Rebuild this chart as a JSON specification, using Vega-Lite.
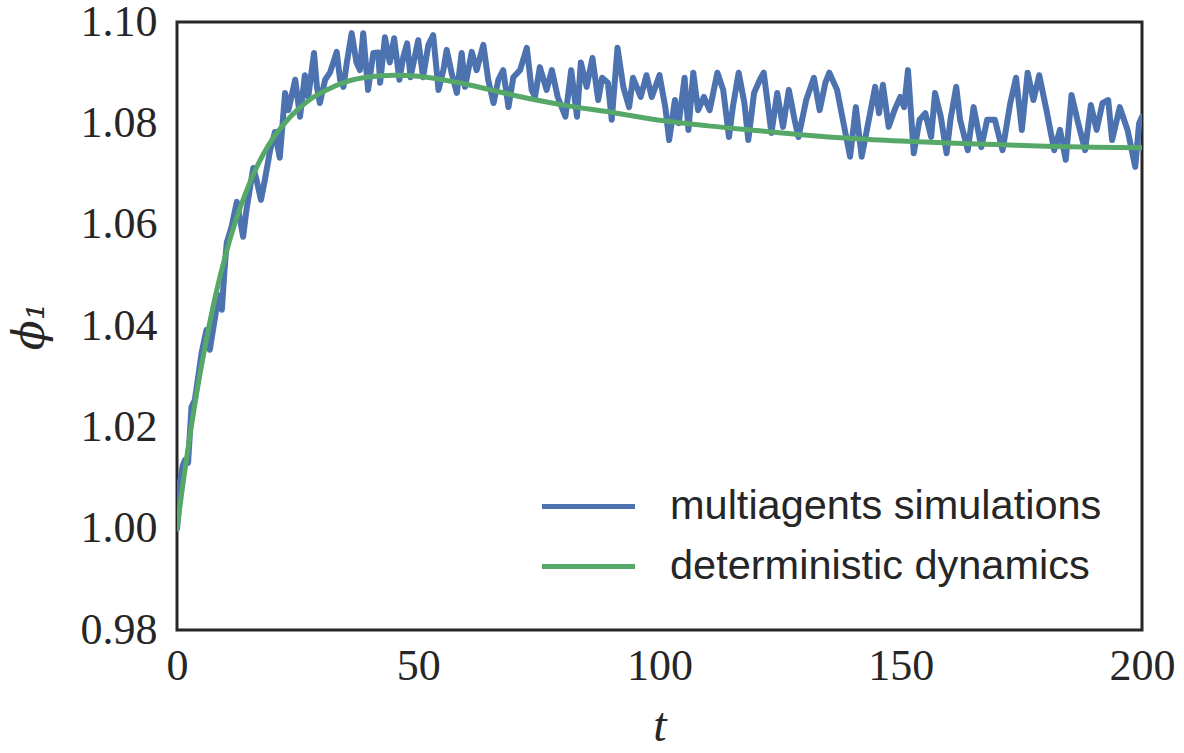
{
  "$schema": "https://vega.github.io/schema/vega-lite/v6.json",
  "autosize": {"type": "none"},
  "padding": {"left": 177, "top": 22, "right": 42, "bottom": 123},
  "width": 965,
  "height": 608,
  "background": "white",
  "config": {
    "view": {"stroke": "#262626", "strokeWidth": 3},
    "axis": {
      "grid": false, "ticks": false, "domain": false,
      "labelFont": "Liberation Serif", "labelFontSize": 44, "labelColor": "#262626",
      "titleFont": "DejaVu Serif", "titleFontStyle": "italic", "titleFontWeight": "normal", "titleColor": "#262626"
    }
  },
  "datasets": {
    "sim": [
      {"t":0,"phi":1.000,"series":"multiagents simulations"},
      {"t":0.3,"phi":1.003,"series":"multiagents simulations"},
      {"t":0.6,"phi":1.009,"series":"multiagents simulations"},
      {"t":1.2,"phi":1.0125,"series":"multiagents simulations"},
      {"t":1.7,"phi":1.0136,"series":"multiagents simulations"},
      {"t":2.3,"phi":1.013,"series":"multiagents simulations"},
      {"t":3.0,"phi":1.024,"series":"multiagents simulations"},
      {"t":3.7,"phi":1.0254,"series":"multiagents simulations"},
      {"t":4.4,"phi":1.030,"series":"multiagents simulations"},
      {"t":5.1,"phi":1.0347,"series":"multiagents simulations"},
      {"t":6.1,"phi":1.0392,"series":"multiagents simulations"},
      {"t":6.8,"phi":1.0353,"series":"multiagents simulations"},
      {"t":7.9,"phi":1.0418,"series":"multiagents simulations"},
      {"t":8.6,"phi":1.0461,"series":"multiagents simulations"},
      {"t":9.3,"phi":1.0432,"series":"multiagents simulations"},
      {"t":9.9,"phi":1.0517,"series":"multiagents simulations"},
      {"t":10.3,"phi":1.0564,"series":"multiagents simulations"},
      {"t":11.3,"phi":1.0595,"series":"multiagents simulations"},
      {"t":12.4,"phi":1.0645,"series":"multiagents simulations"},
      {"t":13.7,"phi":1.0576,"series":"multiagents simulations"},
      {"t":14.4,"phi":1.0629,"series":"multiagents simulations"},
      {"t":15.8,"phi":1.0712,"series":"multiagents simulations"},
      {"t":16.5,"phi":1.0688,"series":"multiagents simulations"},
      {"t":17.4,"phi":1.0649,"series":"multiagents simulations"},
      {"t":18.2,"phi":1.0688,"series":"multiagents simulations"},
      {"t":19.3,"phi":1.0747,"series":"multiagents simulations"},
      {"t":20.3,"phi":1.0783,"series":"multiagents simulations"},
      {"t":21.3,"phi":1.0732,"series":"multiagents simulations"},
      {"t":22.4,"phi":1.086,"series":"multiagents simulations"},
      {"t":23.1,"phi":1.0826,"series":"multiagents simulations"},
      {"t":24.5,"phi":1.0886,"series":"multiagents simulations"},
      {"t":25.5,"phi":1.0813,"series":"multiagents simulations"},
      {"t":26.5,"phi":1.0895,"series":"multiagents simulations"},
      {"t":27.2,"phi":1.0852,"series":"multiagents simulations"},
      {"t":28.4,"phi":1.0939,"series":"multiagents simulations"},
      {"t":29.0,"phi":1.0872,"series":"multiagents simulations"},
      {"t":29.6,"phi":1.084,"series":"multiagents simulations"},
      {"t":30.7,"phi":1.0886,"series":"multiagents simulations"},
      {"t":31.7,"phi":1.090,"series":"multiagents simulations"},
      {"t":32.4,"phi":1.092,"series":"multiagents simulations"},
      {"t":33.1,"phi":1.0941,"series":"multiagents simulations"},
      {"t":33.8,"phi":1.0886,"series":"multiagents simulations"},
      {"t":34.5,"phi":1.0872,"series":"multiagents simulations"},
      {"t":35.2,"phi":1.092,"series":"multiagents simulations"},
      {"t":36.2,"phi":1.0978,"series":"multiagents simulations"},
      {"t":37.2,"phi":1.092,"series":"multiagents simulations"},
      {"t":37.9,"phi":1.0905,"series":"multiagents simulations"},
      {"t":38.6,"phi":1.0978,"series":"multiagents simulations"},
      {"t":39.6,"phi":1.0866,"series":"multiagents simulations"},
      {"t":40.7,"phi":1.0939,"series":"multiagents simulations"},
      {"t":41.7,"phi":1.094,"series":"multiagents simulations"},
      {"t":42.1,"phi":1.088,"series":"multiagents simulations"},
      {"t":43.1,"phi":1.097,"series":"multiagents simulations"},
      {"t":44.1,"phi":1.092,"series":"multiagents simulations"},
      {"t":45.0,"phi":1.0968,"series":"multiagents simulations"},
      {"t":46.1,"phi":1.0886,"series":"multiagents simulations"},
      {"t":46.9,"phi":1.0931,"series":"multiagents simulations"},
      {"t":47.7,"phi":1.0958,"series":"multiagents simulations"},
      {"t":48.4,"phi":1.0891,"series":"multiagents simulations"},
      {"t":50.0,"phi":1.0964,"series":"multiagents simulations"},
      {"t":51.0,"phi":1.0891,"series":"multiagents simulations"},
      {"t":52.1,"phi":1.0955,"series":"multiagents simulations"},
      {"t":53.1,"phi":1.0974,"series":"multiagents simulations"},
      {"t":54.2,"phi":1.0866,"series":"multiagents simulations"},
      {"t":55.2,"phi":1.0905,"series":"multiagents simulations"},
      {"t":55.9,"phi":1.0945,"series":"multiagents simulations"},
      {"t":56.9,"phi":1.090,"series":"multiagents simulations"},
      {"t":58.0,"phi":1.086,"series":"multiagents simulations"},
      {"t":59.0,"phi":1.0939,"series":"multiagents simulations"},
      {"t":59.7,"phi":1.0872,"series":"multiagents simulations"},
      {"t":61.1,"phi":1.0941,"series":"multiagents simulations"},
      {"t":62.1,"phi":1.0905,"series":"multiagents simulations"},
      {"t":63.5,"phi":1.0955,"series":"multiagents simulations"},
      {"t":64.5,"phi":1.0886,"series":"multiagents simulations"},
      {"t":65.6,"phi":1.084,"series":"multiagents simulations"},
      {"t":66.6,"phi":1.0886,"series":"multiagents simulations"},
      {"t":67.6,"phi":1.0905,"series":"multiagents simulations"},
      {"t":68.7,"phi":1.0832,"series":"multiagents simulations"},
      {"t":69.7,"phi":1.0891,"series":"multiagents simulations"},
      {"t":71.1,"phi":1.0905,"series":"multiagents simulations"},
      {"t":72.5,"phi":1.0949,"series":"multiagents simulations"},
      {"t":73.5,"phi":1.0866,"series":"multiagents simulations"},
      {"t":74.2,"phi":1.0852,"series":"multiagents simulations"},
      {"t":75.2,"phi":1.0911,"series":"multiagents simulations"},
      {"t":76.6,"phi":1.0866,"series":"multiagents simulations"},
      {"t":77.7,"phi":1.0905,"series":"multiagents simulations"},
      {"t":78.9,"phi":1.0852,"series":"multiagents simulations"},
      {"t":80.5,"phi":1.0813,"series":"multiagents simulations"},
      {"t":81.7,"phi":1.0905,"series":"multiagents simulations"},
      {"t":82.9,"phi":1.0813,"series":"multiagents simulations"},
      {"t":83.7,"phi":1.092,"series":"multiagents simulations"},
      {"t":84.9,"phi":1.0872,"series":"multiagents simulations"},
      {"t":86.1,"phi":1.0929,"series":"multiagents simulations"},
      {"t":87.3,"phi":1.0846,"series":"multiagents simulations"},
      {"t":88.1,"phi":1.089,"series":"multiagents simulations"},
      {"t":89.3,"phi":1.088,"series":"multiagents simulations"},
      {"t":90.1,"phi":1.0807,"series":"multiagents simulations"},
      {"t":91.3,"phi":1.0949,"series":"multiagents simulations"},
      {"t":92.5,"phi":1.0872,"series":"multiagents simulations"},
      {"t":93.7,"phi":1.0832,"series":"multiagents simulations"},
      {"t":94.5,"phi":1.089,"series":"multiagents simulations"},
      {"t":96.1,"phi":1.0852,"series":"multiagents simulations"},
      {"t":97.3,"phi":1.0895,"series":"multiagents simulations"},
      {"t":98.4,"phi":1.0852,"series":"multiagents simulations"},
      {"t":100.0,"phi":1.0895,"series":"multiagents simulations"},
      {"t":101.2,"phi":1.0832,"series":"multiagents simulations"},
      {"t":102.0,"phi":1.0767,"series":"multiagents simulations"},
      {"t":103.2,"phi":1.0846,"series":"multiagents simulations"},
      {"t":104.0,"phi":1.080,"series":"multiagents simulations"},
      {"t":105.2,"phi":1.089,"series":"multiagents simulations"},
      {"t":106.0,"phi":1.0787,"series":"multiagents simulations"},
      {"t":107.0,"phi":1.090,"series":"multiagents simulations"},
      {"t":108.0,"phi":1.0826,"series":"multiagents simulations"},
      {"t":109.2,"phi":1.0852,"series":"multiagents simulations"},
      {"t":110.4,"phi":1.0826,"series":"multiagents simulations"},
      {"t":112.0,"phi":1.090,"series":"multiagents simulations"},
      {"t":113.2,"phi":1.0866,"series":"multiagents simulations"},
      {"t":114.4,"phi":1.0773,"series":"multiagents simulations"},
      {"t":115.2,"phi":1.0832,"series":"multiagents simulations"},
      {"t":116.4,"phi":1.090,"series":"multiagents simulations"},
      {"t":117.6,"phi":1.084,"series":"multiagents simulations"},
      {"t":118.4,"phi":1.0767,"series":"multiagents simulations"},
      {"t":119.6,"phi":1.086,"series":"multiagents simulations"},
      {"t":120.8,"phi":1.0886,"series":"multiagents simulations"},
      {"t":121.6,"phi":1.090,"series":"multiagents simulations"},
      {"t":123.2,"phi":1.0781,"series":"multiagents simulations"},
      {"t":124.4,"phi":1.086,"series":"multiagents simulations"},
      {"t":125.6,"phi":1.0793,"series":"multiagents simulations"},
      {"t":126.8,"phi":1.0866,"series":"multiagents simulations"},
      {"t":128.0,"phi":1.0807,"series":"multiagents simulations"},
      {"t":128.8,"phi":1.0773,"series":"multiagents simulations"},
      {"t":130.4,"phi":1.0846,"series":"multiagents simulations"},
      {"t":132.0,"phi":1.089,"series":"multiagents simulations"},
      {"t":133.2,"phi":1.0826,"series":"multiagents simulations"},
      {"t":134.4,"phi":1.0881,"series":"multiagents simulations"},
      {"t":135.2,"phi":1.090,"series":"multiagents simulations"},
      {"t":136.8,"phi":1.0866,"series":"multiagents simulations"},
      {"t":138.0,"phi":1.0807,"series":"multiagents simulations"},
      {"t":139.5,"phi":1.0734,"series":"multiagents simulations"},
      {"t":140.7,"phi":1.0832,"series":"multiagents simulations"},
      {"t":141.9,"phi":1.0734,"series":"multiagents simulations"},
      {"t":143.1,"phi":1.0793,"series":"multiagents simulations"},
      {"t":144.7,"phi":1.0872,"series":"multiagents simulations"},
      {"t":145.5,"phi":1.082,"series":"multiagents simulations"},
      {"t":146.3,"phi":1.0876,"series":"multiagents simulations"},
      {"t":147.5,"phi":1.0793,"series":"multiagents simulations"},
      {"t":148.7,"phi":1.0826,"series":"multiagents simulations"},
      {"t":149.9,"phi":1.0852,"series":"multiagents simulations"},
      {"t":150.7,"phi":1.0832,"series":"multiagents simulations"},
      {"t":151.5,"phi":1.0905,"series":"multiagents simulations"},
      {"t":152.7,"phi":1.0741,"series":"multiagents simulations"},
      {"t":153.9,"phi":1.0807,"series":"multiagents simulations"},
      {"t":155.1,"phi":1.082,"series":"multiagents simulations"},
      {"t":156.3,"phi":1.0773,"series":"multiagents simulations"},
      {"t":157.1,"phi":1.086,"series":"multiagents simulations"},
      {"t":158.3,"phi":1.0813,"series":"multiagents simulations"},
      {"t":159.5,"phi":1.0741,"series":"multiagents simulations"},
      {"t":160.3,"phi":1.0807,"series":"multiagents simulations"},
      {"t":161.5,"phi":1.0872,"series":"multiagents simulations"},
      {"t":162.3,"phi":1.0807,"series":"multiagents simulations"},
      {"t":163.9,"phi":1.0747,"series":"multiagents simulations"},
      {"t":165.1,"phi":1.0832,"series":"multiagents simulations"},
      {"t":166.7,"phi":1.0753,"series":"multiagents simulations"},
      {"t":167.9,"phi":1.0807,"series":"multiagents simulations"},
      {"t":169.5,"phi":1.0807,"series":"multiagents simulations"},
      {"t":171.1,"phi":1.0747,"series":"multiagents simulations"},
      {"t":172.7,"phi":1.084,"series":"multiagents simulations"},
      {"t":173.9,"phi":1.089,"series":"multiagents simulations"},
      {"t":175.1,"phi":1.0787,"series":"multiagents simulations"},
      {"t":176.3,"phi":1.090,"series":"multiagents simulations"},
      {"t":177.5,"phi":1.0846,"series":"multiagents simulations"},
      {"t":178.7,"phi":1.0895,"series":"multiagents simulations"},
      {"t":180.2,"phi":1.0826,"series":"multiagents simulations"},
      {"t":181.8,"phi":1.0747,"series":"multiagents simulations"},
      {"t":183.0,"phi":1.0787,"series":"multiagents simulations"},
      {"t":184.2,"phi":1.0728,"series":"multiagents simulations"},
      {"t":185.4,"phi":1.0856,"series":"multiagents simulations"},
      {"t":186.6,"phi":1.0807,"series":"multiagents simulations"},
      {"t":188.2,"phi":1.0747,"series":"multiagents simulations"},
      {"t":189.4,"phi":1.0836,"series":"multiagents simulations"},
      {"t":190.6,"phi":1.0787,"series":"multiagents simulations"},
      {"t":191.8,"phi":1.084,"series":"multiagents simulations"},
      {"t":193.0,"phi":1.0846,"series":"multiagents simulations"},
      {"t":193.8,"phi":1.0767,"series":"multiagents simulations"},
      {"t":195.4,"phi":1.0832,"series":"multiagents simulations"},
      {"t":197.0,"phi":1.0787,"series":"multiagents simulations"},
      {"t":198.6,"phi":1.0714,"series":"multiagents simulations"},
      {"t":199.4,"phi":1.080,"series":"multiagents simulations"},
      {"t":200.0,"phi":1.0813,"series":"multiagents simulations"}
    ],
    "det": [
      {"t":0,"phi":1.0000,"series":"deterministic dynamics"},
      {"t":1,"phi":1.0072,"series":"deterministic dynamics"},
      {"t":2,"phi":1.0140,"series":"deterministic dynamics"},
      {"t":3,"phi":1.0204,"series":"deterministic dynamics"},
      {"t":4,"phi":1.0263,"series":"deterministic dynamics"},
      {"t":5,"phi":1.0318,"series":"deterministic dynamics"},
      {"t":6,"phi":1.0369,"series":"deterministic dynamics"},
      {"t":8,"phi":1.0461,"series":"deterministic dynamics"},
      {"t":10,"phi":1.0538,"series":"deterministic dynamics"},
      {"t":12,"phi":1.0603,"series":"deterministic dynamics"},
      {"t":14,"phi":1.0657,"series":"deterministic dynamics"},
      {"t":16,"phi":1.0703,"series":"deterministic dynamics"},
      {"t":18,"phi":1.0741,"series":"deterministic dynamics"},
      {"t":20,"phi":1.0772,"series":"deterministic dynamics"},
      {"t":22,"phi":1.0797,"series":"deterministic dynamics"},
      {"t":25,"phi":1.0827,"series":"deterministic dynamics"},
      {"t":28,"phi":1.0850,"series":"deterministic dynamics"},
      {"t":31,"phi":1.0866,"series":"deterministic dynamics"},
      {"t":35,"phi":1.0882,"series":"deterministic dynamics"},
      {"t":40,"phi":1.0892,"series":"deterministic dynamics"},
      {"t":45,"phi":1.0895,"series":"deterministic dynamics"},
      {"t":50,"phi":1.0893,"series":"deterministic dynamics"},
      {"t":55,"phi":1.0886,"series":"deterministic dynamics"},
      {"t":60,"phi":1.0877,"series":"deterministic dynamics"},
      {"t":65,"phi":1.0866,"series":"deterministic dynamics"},
      {"t":70,"phi":1.0855,"series":"deterministic dynamics"},
      {"t":75,"phi":1.0845,"series":"deterministic dynamics"},
      {"t":80,"phi":1.0836,"series":"deterministic dynamics"},
      {"t":90,"phi":1.0822,"series":"deterministic dynamics"},
      {"t":100,"phi":1.0806,"series":"deterministic dynamics"},
      {"t":110,"phi":1.0795,"series":"deterministic dynamics"},
      {"t":120,"phi":1.0786,"series":"deterministic dynamics"},
      {"t":130,"phi":1.0777,"series":"deterministic dynamics"},
      {"t":140,"phi":1.0770,"series":"deterministic dynamics"},
      {"t":150,"phi":1.0765,"series":"deterministic dynamics"},
      {"t":160,"phi":1.0761,"series":"deterministic dynamics"},
      {"t":170,"phi":1.0758,"series":"deterministic dynamics"},
      {"t":180,"phi":1.0755,"series":"deterministic dynamics"},
      {"t":190,"phi":1.0753,"series":"deterministic dynamics"},
      {"t":200,"phi":1.0752,"series":"deterministic dynamics"}
    ]
  },
  "encoding": {
    "x": {
      "field": "t", "type": "quantitative",
      "scale": {"domain": [0, 200], "nice": false, "zero": false},
      "axis": {"values": [0, 50, 100, 150, 200], "labelPadding": 14, "labelFlush": false, "labelOverlap": false,
               "title": "t", "titleFont": "Liberation Serif", "titleFontSize": 48, "titleBaseline": "middle", "titleY": 96}
    },
    "y": {
      "field": "phi", "type": "quantitative",
      "scale": {"domain": [0.98, 1.10], "nice": false, "zero": false},
      "axis": {"values": [0.98, 1.0, 1.02, 1.04, 1.06, 1.08, 1.1], "format": ".2f", "labelPadding": 20,
               "title": "ϕ₁", "titleFontSize": 44, "titleX": -147, "titleY": 304, "titleBaseline": "middle", "titleAlign": "center"}
    },
    "color": {
      "field": "series", "type": "nominal",
      "scale": {"domain": ["multiagents simulations", "deterministic dynamics"], "range": ["#4c72b0", "#55a868"]},
      "legend": {
        "title": null, "orient": "none", "legendX": 378, "legendY": 451, "padding": 0,
        "symbolType": "M-1.5,0H1.5", "symbolSize": 3844, "symbolStrokeWidth": 5, "symbolFillColor": "transparent",
        "labelFont": "Liberation Sans", "labelFontSize": 41.5, "labelColor": "#262626", "labelOffset": 48, "rowPadding": 6, "labelLimit": 600
      }
    }
  },
  "layer": [
    {"data": {"name": "sim"}, "mark": {"type": "line", "strokeWidth": 6, "strokeJoin": "round", "strokeCap": "round", "clip": true}},
    {"data": {"name": "det"}, "mark": {"type": "line", "strokeWidth": 5, "strokeCap": "round", "interpolate": "monotone", "clip": true}}
  ]
}
